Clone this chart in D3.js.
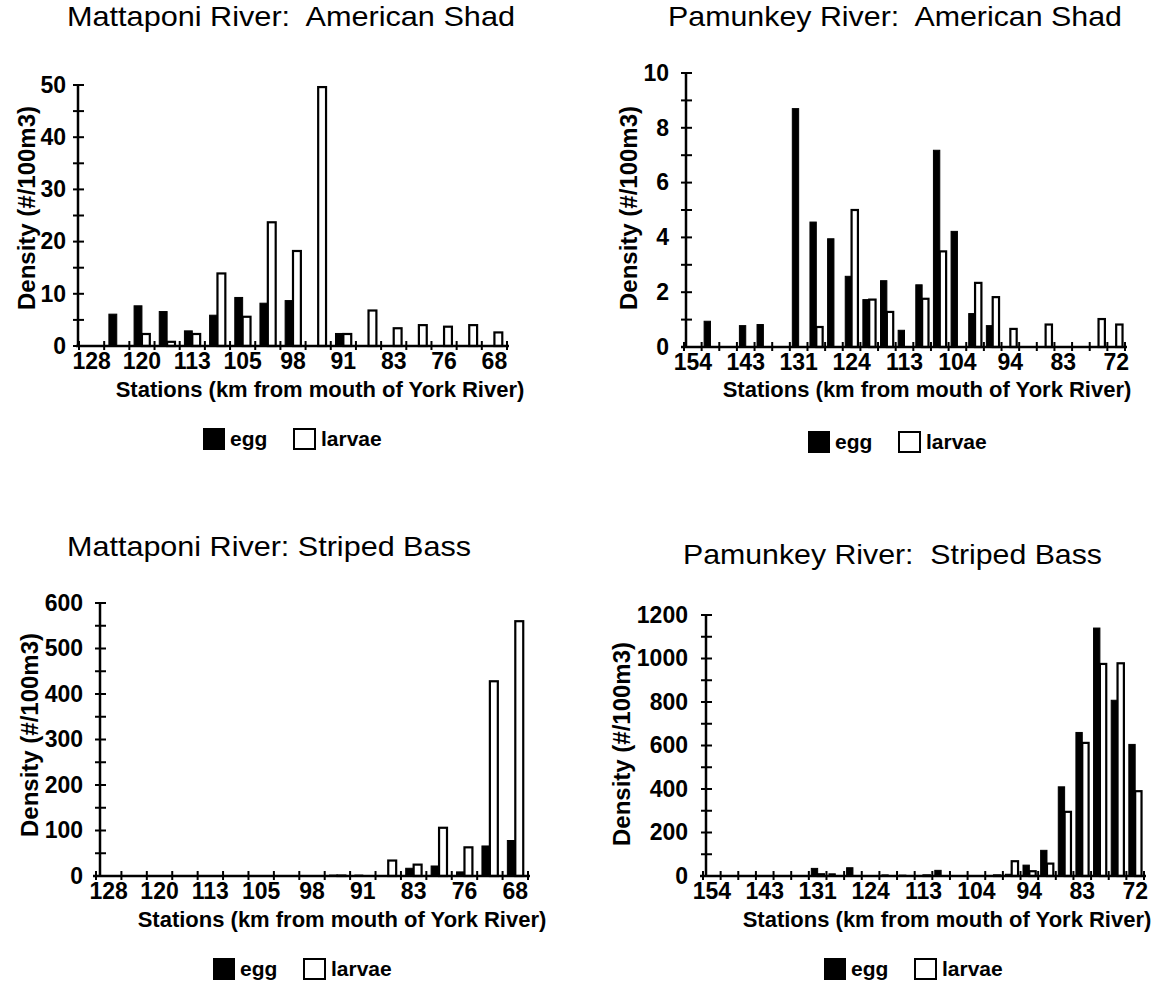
<!DOCTYPE html>
<html><head><meta charset="utf-8">
<script src="https://cdn.jsdelivr.net/npm/d3@7"></script>
<style>
html,body{margin:0;padding:0;background:#fff;}
svg{display:block;}
text{font-family:"Liberation Sans",Arial,Helvetica,sans-serif;fill:#000;}
</style></head><body>
<svg id="chart" width="1162" height="991"></svg>
<script>
// ---------------- data ----------------
const mattaponiStations = ["128","124","120","117","113","109","105","102","98","95","91","87","83","80","76","72","68"];
const mattaponiTickLabels = ["128","120","113","105","98","91","83","76","68"];
const pamunkeyStations = ["154","150","147","143","139","135","131","129","126","124","120","117","113","110","107","104","101","97","94","90","87","83","79","76","72"];
const pamunkeyTickLabels = ["154","143","131","124","113","104","94","83","72"];
const seriesNames = ["egg","larvae"];

const mattaponiShadEgg    = [0, 6.1, 7.7, 6.6, 2.9, 5.9, 9.3, 8.2, 8.7, 0, 2.4, 0, 0, 0, 0, 0, 0];
const mattaponiShadLarvae = [0, 0, 2.3, 0.8, 2.3, 13.9, 5.6, 23.7, 18.2, 49.6, 2.3, 6.8, 3.4, 4.0, 3.7, 4.0, 2.6];

const pamunkeyShadEgg    = [0, 0.94, 0, 0.78, 0.82, 0, 8.7, 4.56, 3.95, 2.58, 1.73, 2.42, 0.61, 2.27, 7.18, 4.22, 1.22, 0.78, 0, 0, 0, 0, 0, 0, 0];
const pamunkeyShadLarvae = [0, 0, 0, 0, 0, 0, 0, 0.73, 0, 5.0, 1.73, 1.28, 0, 1.76, 3.49, 0, 2.34, 1.82, 0.66, 0, 0.82, 0, 0, 1.02, 0.82];

const mattaponiBassEgg    = [0, 0, 0, 0, 0, 0, 0, 0, 1, 2, 2, 0, 17, 22, 9, 66, 78];
const mattaponiBassLarvae = [0, 0, 0, 0, 0, 0, 0, 0, 0, 1, 0, 34, 25, 106, 63, 428, 560];

const pamunkeyBassEgg    = [0, 0, 0, 0, 0, 0, 35, 10, 38, 0, 5, 4, 0, 26, 0, 0, 0, 8, 50, 118, 410, 660, 1140, 808, 605];
const pamunkeyBassLarvae = [0, 0, 0, 0, 0, 0, 8, 0, 0, 0, 0, 0, 3, 0, 0, 0, 3, 68, 22, 57, 295, 612, 975, 978, 390];

const chartTitles = ["Mattaponi River:  American Shad", "Pamunkey River:  American Shad", "Mattaponi River: Striped Bass", "Pamunkey River:  Striped Bass"];
const yAxisTitle = "Density (#/100m3)";
const xAxisTitle = "Stations (km from mouth of York River)";
const yMaxima = [50, 10, 600, 1200];
const yMajorSteps = [10, 2, 100, 200];

// ---------------- layout ----------------
const layouts = [
  {xRange:[79,507],  y0:346, yTop:85,  yAxisX:78,  subPad:0.6,  titleX:67,  titleY:26,  titleW:448, yTitleX:26,  yTitleY:208, yLabelPad:12, xTitleX:320, xTitleY:397, legendX:203, legendY:428},
  {xRange:[684,1125],y0:347, yTop:73,  yAxisX:686, subPad:0.39, titleX:668, titleY:26,  titleW:454, yTitleX:628, yTitleY:208, yLabelPad:17, xTitleX:927, xTitleY:397, legendX:808, legendY:431},
  {xRange:[96,528],  y0:876, yTop:603, yAxisX:100, subPad:0.6,  titleX:67,  titleY:556, titleW:404, yTitleX:29,  yTitleY:735, yLabelPad:17, xTitleX:342, xTitleY:927, legendX:213, legendY:958},
  {xRange:[703,1144],y0:876, yTop:615, yAxisX:706, subPad:0.39, titleX:683, titleY:564, titleW:419, yTitleX:621, yTitleY:744, yLabelPad:18, xTitleX:947, xTitleY:927, legendX:824, legendY:958}
];

const charts = [
  {stations:mattaponiStations, tickLabels:mattaponiTickLabels, egg:mattaponiShadEgg, larvae:mattaponiShadLarvae},
  {stations:pamunkeyStations,  tickLabels:pamunkeyTickLabels,  egg:pamunkeyShadEgg,  larvae:pamunkeyShadLarvae},
  {stations:mattaponiStations, tickLabels:mattaponiTickLabels, egg:mattaponiBassEgg, larvae:mattaponiBassLarvae},
  {stations:pamunkeyStations,  tickLabels:pamunkeyTickLabels,  egg:pamunkeyBassEgg,  larvae:pamunkeyBassLarvae}
];

const svg = d3.select("#chart");
const fills = {egg:"#000", larvae:"#fff"};
const FONT = '"Liberation Sans",Arial,sans-serif';

function drawChart(c, i) {
  const L = layouts[i];
  const yMax = yMaxima[i], yStep = yMajorSteps[i];
  const x = d3.scaleBand().domain(c.stations).range(L.xRange);
  const xs = d3.scaleBand().domain(seriesNames).range([0, x.bandwidth()]).paddingOuter(L.subPad);
  const y = d3.scaleLinear().domain([0, yMax]).range([L.y0, L.yTop]);
  const g = svg.append("g");

  // title
  g.append("text").attr("x", L.titleX).attr("y", L.titleY)
    .attr("font-size", 28).attr("textLength", L.titleW).attr("lengthAdjust", "spacingAndGlyphs")
    .style("white-space", "pre").text(chartTitles[i]);

  // bars
  const rows = c.stations.map((s, k) => ({station: s, vals: [
    {key: "egg", v: c.egg[k]}, {key: "larvae", v: c.larvae[k]}]}));
  const grp = g.append("g").selectAll("g").data(rows).join("g")
    .attr("transform", d => `translate(${x(d.station)},0)`);
  grp.selectAll("rect").data(d => d.vals.filter(e => e.v > 0)).join("rect")
    .attr("x", d => xs(d.key))
    .attr("y", d => y(d.v))
    .attr("width", xs.bandwidth())
    .attr("height", d => y(0) - y(d.v))
    .attr("fill", d => fills[d.key])
    .attr("stroke", "#000")
    .attr("stroke-width", d => d.key === "larvae" ? 2.2 : 1);

  // x axis line + boundary ticks
  const xr = x.range();
  g.append("line").attr("x1", xr[0] - 3).attr("x2", xr[1] + 2)
    .attr("y1", L.y0).attr("y2", L.y0).attr("stroke", "#000").attr("stroke-width", 2.5);
  const bounds = c.stations.map(s => x(s)).concat([xr[1]]);
  g.append("g").selectAll("line").data(bounds).join("line")
    .attr("x1", d => d).attr("x2", d => d)
    .attr("y1", L.y0 - 5).attr("y2", L.y0 + 4)
    .attr("stroke", "#000").attr("stroke-width", 2);

  // x tick labels
  const xAxis = d3.axisBottom(x).tickValues(c.tickLabels).tickSize(0).tickPadding(7);
  const xa = g.append("g").attr("transform", `translate(0,${L.y0})`).call(xAxis);
  xa.select(".domain").remove();
  xa.selectAll("text").attr("font-size", 23).attr("font-weight", "bold")
    .attr("font-family", FONT).attr("fill", "#000");

  // y axis
  g.append("line").attr("x1", L.yAxisX).attr("x2", L.yAxisX)
    .attr("y1", y(yMax)).attr("y2", L.y0).attr("stroke", "#000").attr("stroke-width", 2.5);
  const minor = d3.range(0, yMax + yStep / 4, yStep / 2);
  g.append("g").selectAll("line").data(minor).join("line")
    .attr("x1", L.yAxisX - 5).attr("x2", L.yAxisX + 6)
    .attr("y1", d => y(d)).attr("y2", d => y(d))
    .attr("stroke", "#000").attr("stroke-width", 2);
  const yAxis = d3.axisLeft(y).tickValues(d3.range(0, yMax + yStep / 4, yStep))
    .tickFormat(d3.format("d")).tickSize(0).tickPadding(L.yLabelPad);
  const ya = g.append("g").attr("transform", `translate(${L.yAxisX},0)`).call(yAxis);
  ya.select(".domain").remove();
  ya.selectAll("text").attr("font-size", 23).attr("font-weight", "bold")
    .attr("font-family", FONT).attr("fill", "#000");

  // axis titles
  g.append("text").attr("transform", `translate(${L.yTitleX},${L.yTitleY}) rotate(-90)`)
    .attr("text-anchor", "middle").attr("dominant-baseline", "central")
    .attr("font-size", 24).attr("font-weight", "bold").text(yAxisTitle);
  g.append("text").attr("x", L.xTitleX).attr("y", L.xTitleY).attr("text-anchor", "middle")
    .attr("font-size", 22).attr("font-weight", "bold").text(xAxisTitle);

  // legend
  const lg = g.append("g").attr("transform", `translate(${L.legendX},${L.legendY})`);
  const items = [{key: "egg", dx: 0, w: 22}, {key: "larvae", dx: 90, w: 23}];
  const it = lg.selectAll("g").data(items).join("g").attr("transform", d => `translate(${d.dx},0)`);
  it.append("rect").attr("x", 1).attr("y", 1).attr("width", d => d.w - 2).attr("height", 20)
    .attr("fill", d => fills[d.key]).attr("stroke", "#000").attr("stroke-width", 2);
  it.append("text").attr("x", d => d.w + 5).attr("y", 18)
    .attr("font-size", 21).attr("font-weight", "bold").text(d => d.key);
}

charts.forEach(drawChart);
</script>
</body></html>
